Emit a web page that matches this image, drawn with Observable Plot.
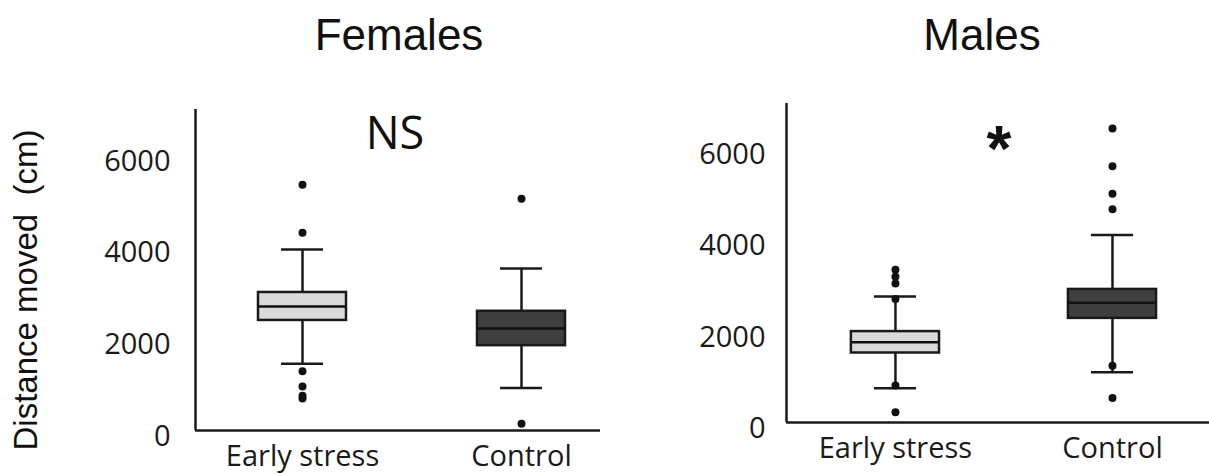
<!DOCTYPE html>
<html>
<head>
<meta charset="utf-8">
<script src="https://cdn.jsdelivr.net/npm/d3@7"></script>
<script src="https://cdn.jsdelivr.net/npm/@observablehq/plot@0.6"></script>
<style>
  body { margin: 0; background: #fff; }
  #wrap { position: relative; width: 1209px; height: 474px; overflow: hidden; background: #fff; }
  .title { position: absolute; top: 13px; font-family: "Liberation Sans", Arial, sans-serif; font-size: 44px; line-height: 1; color: #111; transform: translateX(-50%); white-space: nowrap; }
  #ylabel { position: absolute; left: 25px; top: 290px; font-family: "Liberation Sans", Arial, sans-serif; font-size: 33px; line-height: 1; color: #111; white-space: pre; transform: translate(-50%, -50%) rotate(-90deg); }
  .panel { position: absolute; top: 80px; }
</style>
</head>
<body>
<div id="wrap">
  <div class="title" id="t0"></div>
  <div class="title" id="t1"></div>
  <div id="ylabel"></div>
  <div class="panel" id="p0" style="left:0px"></div>
  <div class="panel" id="p1" style="left:600px"></div>
</div>
<script>
// ---- data ----
const groups = ["Early stress", "Control"];
const panelTitles = ["Females", "Males"];
const yLabel = "Distance moved  (cm)";
const yTicks = [0, 2000, 4000, 6000];
const annotations = ["NS", "*"];

// Females: [Early stress, Control]
const femalesQ1 = [2400, 1850];
const femalesMedian = [2705, 2225];
const femalesQ3 = [3010, 2600];
const femalesWhiskerLow = [1455, 925];
const femalesWhiskerHigh = [3945, 3530];
const femalesOutliersEarly = [5360, 4310, 1290, 960, 760, 700];
const femalesOutliersControl = [5055, 145];

// Males: [Early stress, Control]
const malesQ1 = [1525, 2285];
const malesMedian = [1760, 2630];
const malesQ3 = [1995, 2920];
const malesWhiskerLow = [752, 1102];
const malesWhiskerHigh = [2766, 4117];
const malesOutliersEarly = [3350, 3200, 3050, 2710, 810, 226];
const malesOutliersControl = [6453, 5621, 5021, 4679, 1248, 540];

// ---- drawing ----
const ink = "#1a1a1a";
const fills = ["#dadada", "#3f3f3f"];

function panel(cfg) {
  const rows = groups.map((g, i) => ({
    i, g, q1: cfg.q1[i], med: cfg.med[i], q3: cfg.q3[i], lo: cfg.lo[i], hi: cfg.hi[i]
  }));
  const pts = cfg.outliers.flatMap((arr, i) => arr.map(v => ({ i, v })));
  const bh = cfg.boxHalf, ch = cfg.capHalf;
  return Plot.plot({
    width: cfg.width,
    height: 394,
    marginLeft: cfg.marginLeft,
    marginRight: 0,
    marginTop: cfg.marginTop,
    marginBottom: cfg.marginBottom,
    x: { domain: cfg.xDomain, axis: null, label: null },
    y: { domain: [0, 7000], axis: null, label: null },
    color: { domain: groups, range: fills },
    style: { fontFamily: "'Open Sans', sans-serif", fontSize: "29px", color: ink, background: "transparent", overflow: "visible" },
    marks: [
      Plot.ruleX(rows, { x: "i", y1: "lo", y2: "hi", stroke: ink, strokeWidth: 2.5 }),
      Plot.ruleY(rows, { y: "lo", x1: d => d.i - ch, x2: d => d.i + ch, stroke: ink, strokeWidth: 2.5 }),
      Plot.ruleY(rows, { y: "hi", x1: d => d.i - ch, x2: d => d.i + ch, stroke: ink, strokeWidth: 2.5 }),
      Plot.rect(rows, { x1: d => d.i - bh, x2: d => d.i + bh, y1: "q1", y2: "q3", fill: "g", stroke: ink, strokeWidth: 2.5 }),
      Plot.ruleY(rows, { y: "med", x1: d => d.i - bh, x2: d => d.i + bh, stroke: "#111", strokeWidth: 2.5 }),
      Plot.dot(pts, { x: "i", y: "v", r: 4, fill: "#111", stroke: "none" }),
      Plot.ruleX([cfg.xDomain[0]], { stroke: ink, strokeWidth: 2.5 }),
      Plot.ruleY([0], { stroke: ink, strokeWidth: 2.5 }),
      Plot.axisY({ ticks: yTicks, tickSize: 0, tickPadding: cfg.yPad, dy: 6, tickFormat: d => String(d), fontSize: 29, label: null }),
      Plot.axisX({ ticks: [0, 1], tickSize: 0, tickPadding: 15, tickFormat: i => groups[i], fontSize: 29, label: null }),
      Plot.text([cfg.note], {
        x: () => 0.5, frameAnchor: "top", text: d => d, lineAnchor: "middle",
        dx: cfg.noteDx, dy: cfg.noteDy, fontSize: cfg.noteSize,
        fontFamily: cfg.noteFont, fontWeight: cfg.noteWeight, fill: "#111"
      })
    ]
  });
}

document.getElementById("t0").textContent = panelTitles[0];
document.getElementById("t0").style.left = "399px";
document.getElementById("t1").textContent = panelTitles[1];
document.getElementById("t1").style.left = "982px";
document.getElementById("ylabel").textContent = yLabel;

document.getElementById("p0").append(panel({
  width: 600, marginLeft: 195, marginTop: 29, marginBottom: 44,
  xDomain: [-0.4886, 1.3607], boxHalf: 0.2009, capHalf: 0.0959, yPad: 25,
  q1: femalesQ1, med: femalesMedian, q3: femalesQ3, lo: femalesWhiskerLow, hi: femalesWhiskerHigh,
  outliers: [femalesOutliersEarly, femalesOutliersControl],
  note: annotations[0], noteDx: -17, noteDy: 25, noteSize: 45, noteFont: "'Open Sans', sans-serif", noteWeight: "normal"
}));

document.getElementById("p1").append(panel({
  width: 609, marginLeft: 186, marginTop: 23, marginBottom: 52,
  xDomain: [-0.502, 1.447], boxHalf: 0.203, capHalf: 0.097, yPad: 21,
  q1: malesQ1, med: malesMedian, q3: malesQ3, lo: malesWhiskerLow, hi: malesWhiskerHigh,
  outliers: [malesOutliersEarly, malesOutliersControl],
  note: annotations[1], noteDx: -5, noteDy: 47, noteSize: 64, noteFont: "'Liberation Sans', Arial, sans-serif", noteWeight: "bold"
}));
</script>
</body>
</html>
